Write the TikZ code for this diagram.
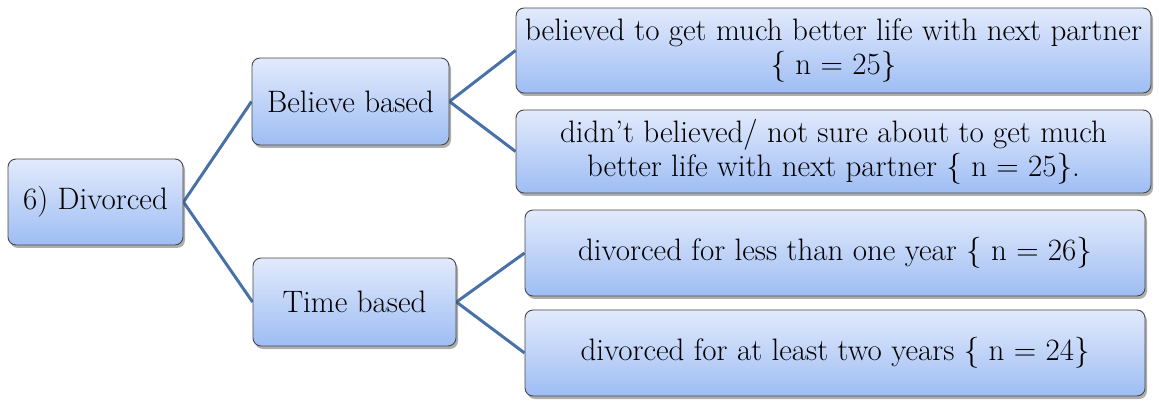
\documentclass[tikz,border=0pt]{standalone}
\usepackage{fontspec}
\usetikzlibrary{shadows,backgrounds}
\definecolor{boxtop}{RGB}{226,234,252}
\definecolor{boxbot}{RGB}{158,189,244}
\definecolor{connc}{RGB}{72,113,168}
\begin{document}
\begin{tikzpicture}[x=1pt,y=-1pt,
 box/.style={draw=black!72, line width=0.9pt, rounded corners=8pt,
   top color=boxtop, bottom color=boxbot, align=center, inner sep=0pt,
   font=\rmfamily\fontsize{31}{34}\selectfont,
   drop shadow={shadow xshift=2pt, shadow yshift=-3pt, opacity=0.45, fill=black!70}},
 conn/.style={draw=connc, line width=3pt}]
\useasboundingbox (0,0) rectangle (1159,403);
\node[box, minimum width=175pt, minimum height=86pt] (div) at (95.5,202) {6) Divorced};
\node[box, minimum width=197pt, minimum height=87pt] (bel) at (350.5,101.5) {Believe based};
\node[box, minimum width=203pt, minimum height=88pt] (tim) at (354.5,302) {Time based};
\node[box, minimum width=635pt, minimum height=85pt] (b1) at (833.5,50.5) {believed to get much better life with next partner\\\{ n = 25\}};
\node[box, minimum width=635pt, minimum height=83pt] (b2) at (833.5,151.5) {didn’t believed/ not sure about to get much\\better life with next partner \{ n = 25\}.};
\node[box, minimum width=620pt, minimum height=86pt] (t1) at (835,253) {divorced for less than one year \{ n = 26\}};
\node[box, minimum width=620pt, minimum height=86pt] (t2) at (835,353) {divorced for at least two years \{ n = 24\}};
\begin{scope}[on background layer]
\draw[conn] (bel.west) -- (div.east) -- (tim.west);
\draw[conn] (b1.west) -- (bel.east) -- (b2.west);
\draw[conn] (t1.west) -- (tim.east) -- (t2.west);
\end{scope}
\end{tikzpicture}
\end{document}
